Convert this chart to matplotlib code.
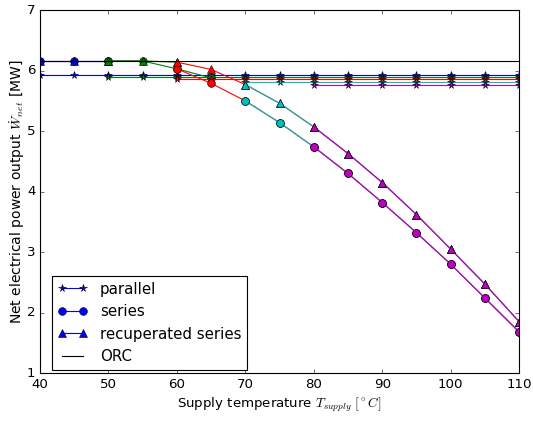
import numpy as np
import matplotlib
matplotlib.use('Agg')
import matplotlib.pyplot as plt

plt.style.use('classic')
plt.rcParams.update({'savefig.facecolor': 'white', 'figure.facecolor': 'white'})

# supply temperatures [C]
supply = [40, 45, 50, 55, 60, 65, 70, 75, 80, 85, 90, 95, 100, 105, 110]

# each case starts at a different supply temperature
start_temps = [40, 50, 60, 70, 80]
colors = ['b', 'g', 'r', 'c', 'm']

# net power [MW]
orc_power = 6.16
parallel_power = [5.93, 5.90, 5.87, 5.82, 5.76]

series_power = [
    [6.16, 6.16, 6.16],
    [6.16, 6.16, 6.03, 5.88],
    [6.03, 5.79, 5.50, 5.14, 4.74, 4.30, 3.82, 3.32, 2.80, 2.24, 1.68],
    [5.50, 5.14, 4.74, 4.30, 3.82, 3.32, 2.80, 2.24, 1.68],
    [4.74, 4.30, 3.82, 3.32, 2.80, 2.24, 1.68],
]

recup_power = [
    [6.16, 6.16, 6.16],
    [6.16, 6.16, 6.14],
    [6.14, 6.02, 5.77, 5.46, 5.07, 4.63, 4.15, 3.62, 3.05, 2.47, 1.85],
    [5.77, 5.46, 5.07, 4.63, 4.15, 3.62, 3.05, 2.47, 1.85],
    [5.07, 4.63, 4.15, 3.62, 3.05, 2.47, 1.85],
]

fig = plt.figure(figsize=(533 / 80, 423 / 80), dpi=80)
ax = fig.add_subplot(111)
plt.subplots_adjust(left=0.075, right=0.974, bottom=0.118, top=0.976)

mk = dict(mec='k', mew=0.5)
handles = []
for i, (t0, c) in enumerate(zip(start_temps, colors)):
    x = supply[supply.index(t0):]
    hp, = ax.plot(x, [parallel_power[i]] * len(x), '-', marker='*', color=c, ms=7, **mk)
    hs, = ax.plot(x[:len(series_power[i])], series_power[i], '-', marker='o', color=c, ms=7, **mk)
    hr, = ax.plot(x[:len(recup_power[i])], recup_power[i], '-', marker='^', color=c, ms=7, **mk)
    if i == 0:
        handles = [hp, hs, hr]

ho, = ax.plot([supply[0], supply[-1]], [orc_power, orc_power], 'k-')
handles.append(ho)

ax.set_xlim(40, 110)
ax.set_ylim(1, 7)
ax.set_xlabel('Supply temperature $T_{supply}$ $[^\\circ C]$')
ax.set_ylabel('Net electrical power output $\\dot{W}_{net}$ [MW]', fontsize=12.5, labelpad=0)
ax.legend(handles, ['parallel', 'series', 'recuperated series', 'ORC'], loc='lower left',
          fontsize=13.5, bbox_to_anchor=(0.025, 0.008), borderaxespad=0)

plt.savefig('out.png', dpi=80)
